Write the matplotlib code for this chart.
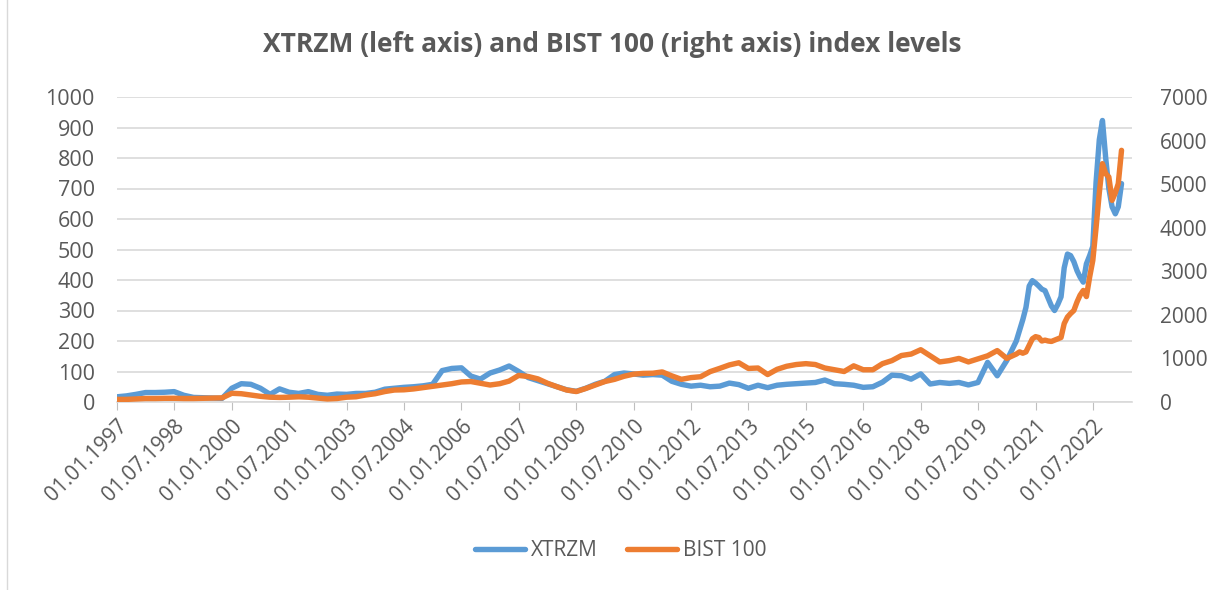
import matplotlib.pyplot as plt
import matplotlib.dates as mdates
import pandas as pd
import numpy as np

# quarterly points 1997-01 .. 2020-07, then monthly 2020-08 .. 2023-04
dates_q = pd.date_range('1997-01-01', '2020-07-01', freq='QS')
dates_m = pd.date_range('2020-08-01', '2023-04-01', freq='MS')
dates = dates_q.append(dates_m)

xtrzm_q = [17, 20, 25, 31, 31, 32, 34, 22, 15, 14,
           13, 12, 45, 60, 58, 45, 25, 43, 32, 28,
           34, 25, 22, 26, 25, 28, 28, 32, 42, 45,
           48, 50, 53, 58, 103, 110, 112, 85, 75, 95,
           105, 118, 100, 80, 70, 60, 50, 40, 35, 45,
           58, 68, 90, 95, 92, 88, 90, 88, 68, 58,
           52, 55, 50, 52, 62, 57, 45, 55, 47, 55,
           58, 60, 62, 64, 72, 60, 58, 55, 48, 50,
           65, 88, 86, 75, 92, 59, 64, 61, 64, 56,
           64, 130, 86, 136, 200]
xtrzm_m = [235, 270, 310, 380, 398, 390, 380, 370, 365, 340, 315, 300,
           320, 345, 440, 485, 480, 460, 430, 410, 393, 453, 480, 510,
           720, 860, 923, 800, 700, 640, 617, 640, 716]

bist_q = [60, 60, 70, 80, 80, 85, 85, 80, 80, 85,
          90, 95, 200, 190, 160, 130, 110, 105, 110, 120,
          110, 90, 70, 80, 110, 120, 160, 190, 240, 275,
          280, 300, 330, 360, 390, 420, 460, 470, 430, 390,
          420, 480, 610, 585, 530, 430, 350, 275, 240, 310,
          390, 470, 520, 590, 640, 656, 660, 690, 600, 520,
          560, 580, 697, 772, 851, 900, 770, 780, 630, 750,
          820, 860, 880, 860, 780, 740, 700, 830, 740, 740,
          880, 950, 1067, 1100, 1200, 1060, 920, 950, 1000, 920,
          990, 1060, 1180, 1000, 1100]
bist_m = [1150, 1120, 1150, 1300, 1450, 1500, 1480, 1400, 1420, 1400, 1390, 1420,
          1450, 1480, 1800, 1950, 2030, 2100, 2300, 2450, 2560, 2420, 2870, 3250,
          4000, 4800, 5470, 5240, 5164, 4628, 4800, 5011, 5776]

xtrzm = xtrzm_q + xtrzm_m
bist = bist_q + bist_m

tick_dates = pd.date_range('1997-01-01', '2022-07-01', freq='18MS')

grey = '#595959'
plt.rcParams['font.family'] = ['Open Sans', 'DejaVu Sans']

fig = plt.figure(figsize=(12.12, 5.9), dpi=100)
ax = fig.add_axes([117 / 1212, 1 - 402 / 590, (1132 - 117) / 1212, 305 / 590])
ax2 = ax.twinx()

l1, = ax.plot(dates, xtrzm, color='#5B9BD5', lw=3.9, solid_capstyle='round',
              label='XTRZM')
l2, = ax2.plot(dates, bist, color='#ED7D31', lw=3.9, solid_capstyle='round',
               label='BIST 100')

ax.set_ylim(0, 1000)
ax2.set_ylim(0, 7000)
ax.set_yticks(np.arange(0, 1001, 100))
ax2.set_yticks(np.arange(0, 7001, 1000))
ax.set_xlim(pd.Timestamp('1997-01-01'), pd.Timestamp('2023-07-10'))
ax.set_xticks(tick_dates)
ax.xaxis.set_major_formatter(mdates.DateFormatter('%d.%m.%Y'))

ax.grid(axis='y', color='#D9D9D9', lw=1.2)
ax.set_axisbelow(True)
for a in (ax, ax2):
    for s in ['top', 'left', 'right', 'bottom']:
        a.spines[s].set_visible(False)
ax.spines['bottom'].set_visible(True)
ax.spines['bottom'].set_color('#D9D9D9')
ax.spines['bottom'].set_linewidth(1.2)

ax.tick_params(axis='y', length=0, labelsize=15.5, labelcolor=grey, pad=16)
ax2.tick_params(axis='y', length=0, labelsize=15, labelcolor=grey, pad=20)
ax.tick_params(axis='x', length=6, color='#BFBFBF', labelsize=15,
               labelcolor=grey, pad=4)
for lbl in ax.get_xticklabels():
    lbl.set_rotation(45)
    lbl.set_ha('right')
    lbl.set_rotation_mode('anchor')

fig.text(0.505, 1 - 45 / 590, 'XTRZM (left axis) and BIST 100 (right axis) index levels',
         ha='center', va='center', fontsize=19, fontweight='bold', color=grey)

fig.legend(handles=[l1, l2], loc='center', bbox_to_anchor=(0.512, 1 - 551 / 590),
           ncol=2, frameon=False, fontsize=15, labelcolor=grey,
           handlelength=2.4, columnspacing=1.4, handletextpad=0.3)

fig.add_artist(plt.Line2D([0.006, 0.006], [0, 1], color='#D9D9D9', lw=1))

fig.savefig('out.png', dpi=100, facecolor='white')
